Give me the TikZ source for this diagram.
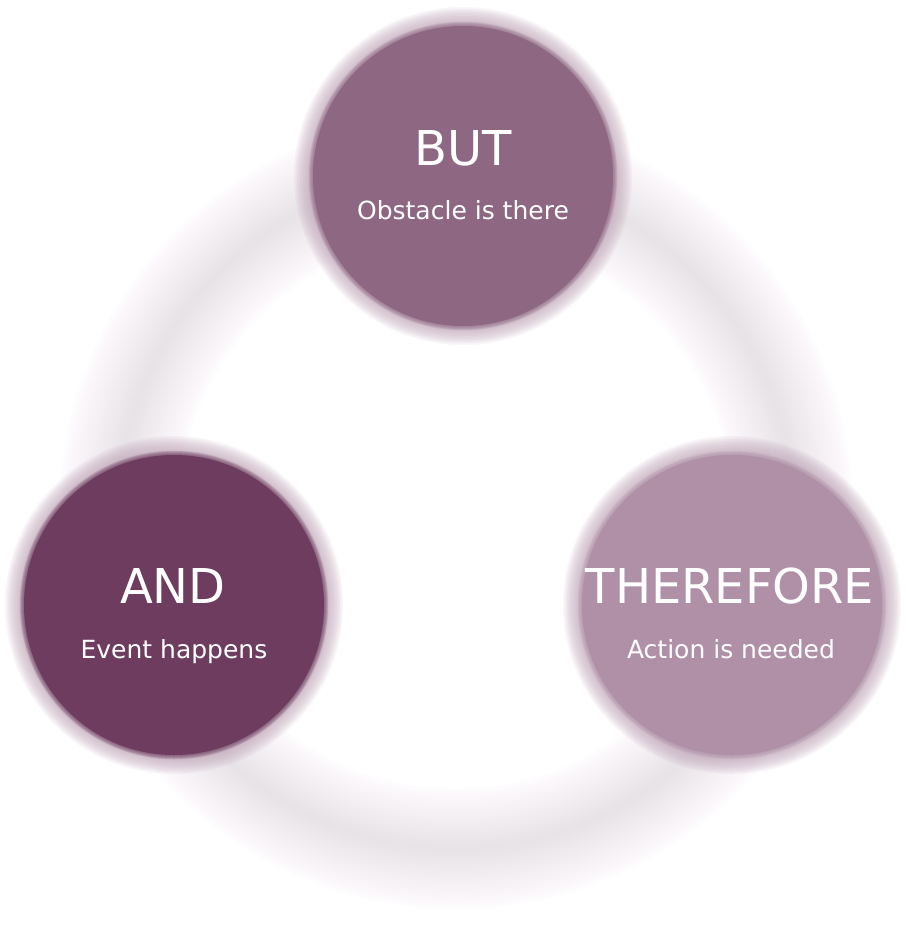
\documentclass[tikz,border=0pt]{standalone}
\usepackage{fontspec}
\setmainfont{DejaVu Sans}
\definecolor{cAnd}{HTML}{6D3C5F}
\definecolor{cBut}{HTML}{8E6783}
\definecolor{cThe}{HTML}{AF90A7}
\definecolor{halo}{HTML}{C3A8BB}
\definecolor{ringc}{HTML}{E6D8E2}
\tikzset{
  bubble/.style={circle, minimum size=300pt, inner sep=0pt, draw=none},
  ttl/.style={anchor=base, text=white, font=\fontsize{48}{56}\selectfont, inner sep=0pt},
  sub/.style={anchor=base, text=white, font=\fontsize{25}{30}\selectfont, inner sep=0pt}
}
\begin{document}
\begin{tikzpicture}[x=1pt,y=-1pt]
\useasboundingbox (0,0) rectangle (905,945);
\fill[white] (0,0) rectangle (905,945);
% big blurred ring
\coordinate (ring) at (456,512);
\foreach \w in {5,10,...,120} \draw[ringc, line width=\w pt, opacity=0.032] (ring) circle[radius=337pt];
% halos round the bubbles
\foreach \p in {(463,176),(174,605),(732,605)}{
  \foreach \w in {3,6,...,30} \draw[halo, line width=\w pt, opacity=0.1] \p circle[radius=154pt];
}
% bubbles
\node[bubble, fill=cBut] (but) at (463,176) {};
\node[bubble, fill=cAnd] (and) at (174,605) {};
\node[bubble, fill=cThe] (the) at (732,605) {};
\foreach \n/\c in {but/cBut, and/cAnd, the/cThe}{
  \foreach \w in {1,2,...,9} \draw[\c, line width=\w pt, opacity=0.12] (\n) circle[radius=150pt];
}
% texts
\node[ttl] (butT) at (463,165) {BUT};
\node[sub] (butS) at (463,219) {Obstacle is there};
\node[ttl] (andT) at (173,603) {AND};
\node[sub] (andS) at (174,658) {Event happens};
\node[ttl] (theT) at (730,603) {THEREFORE};
\node[sub] (theS) at (731,658) {Action is needed};
\end{tikzpicture}
\end{document}
